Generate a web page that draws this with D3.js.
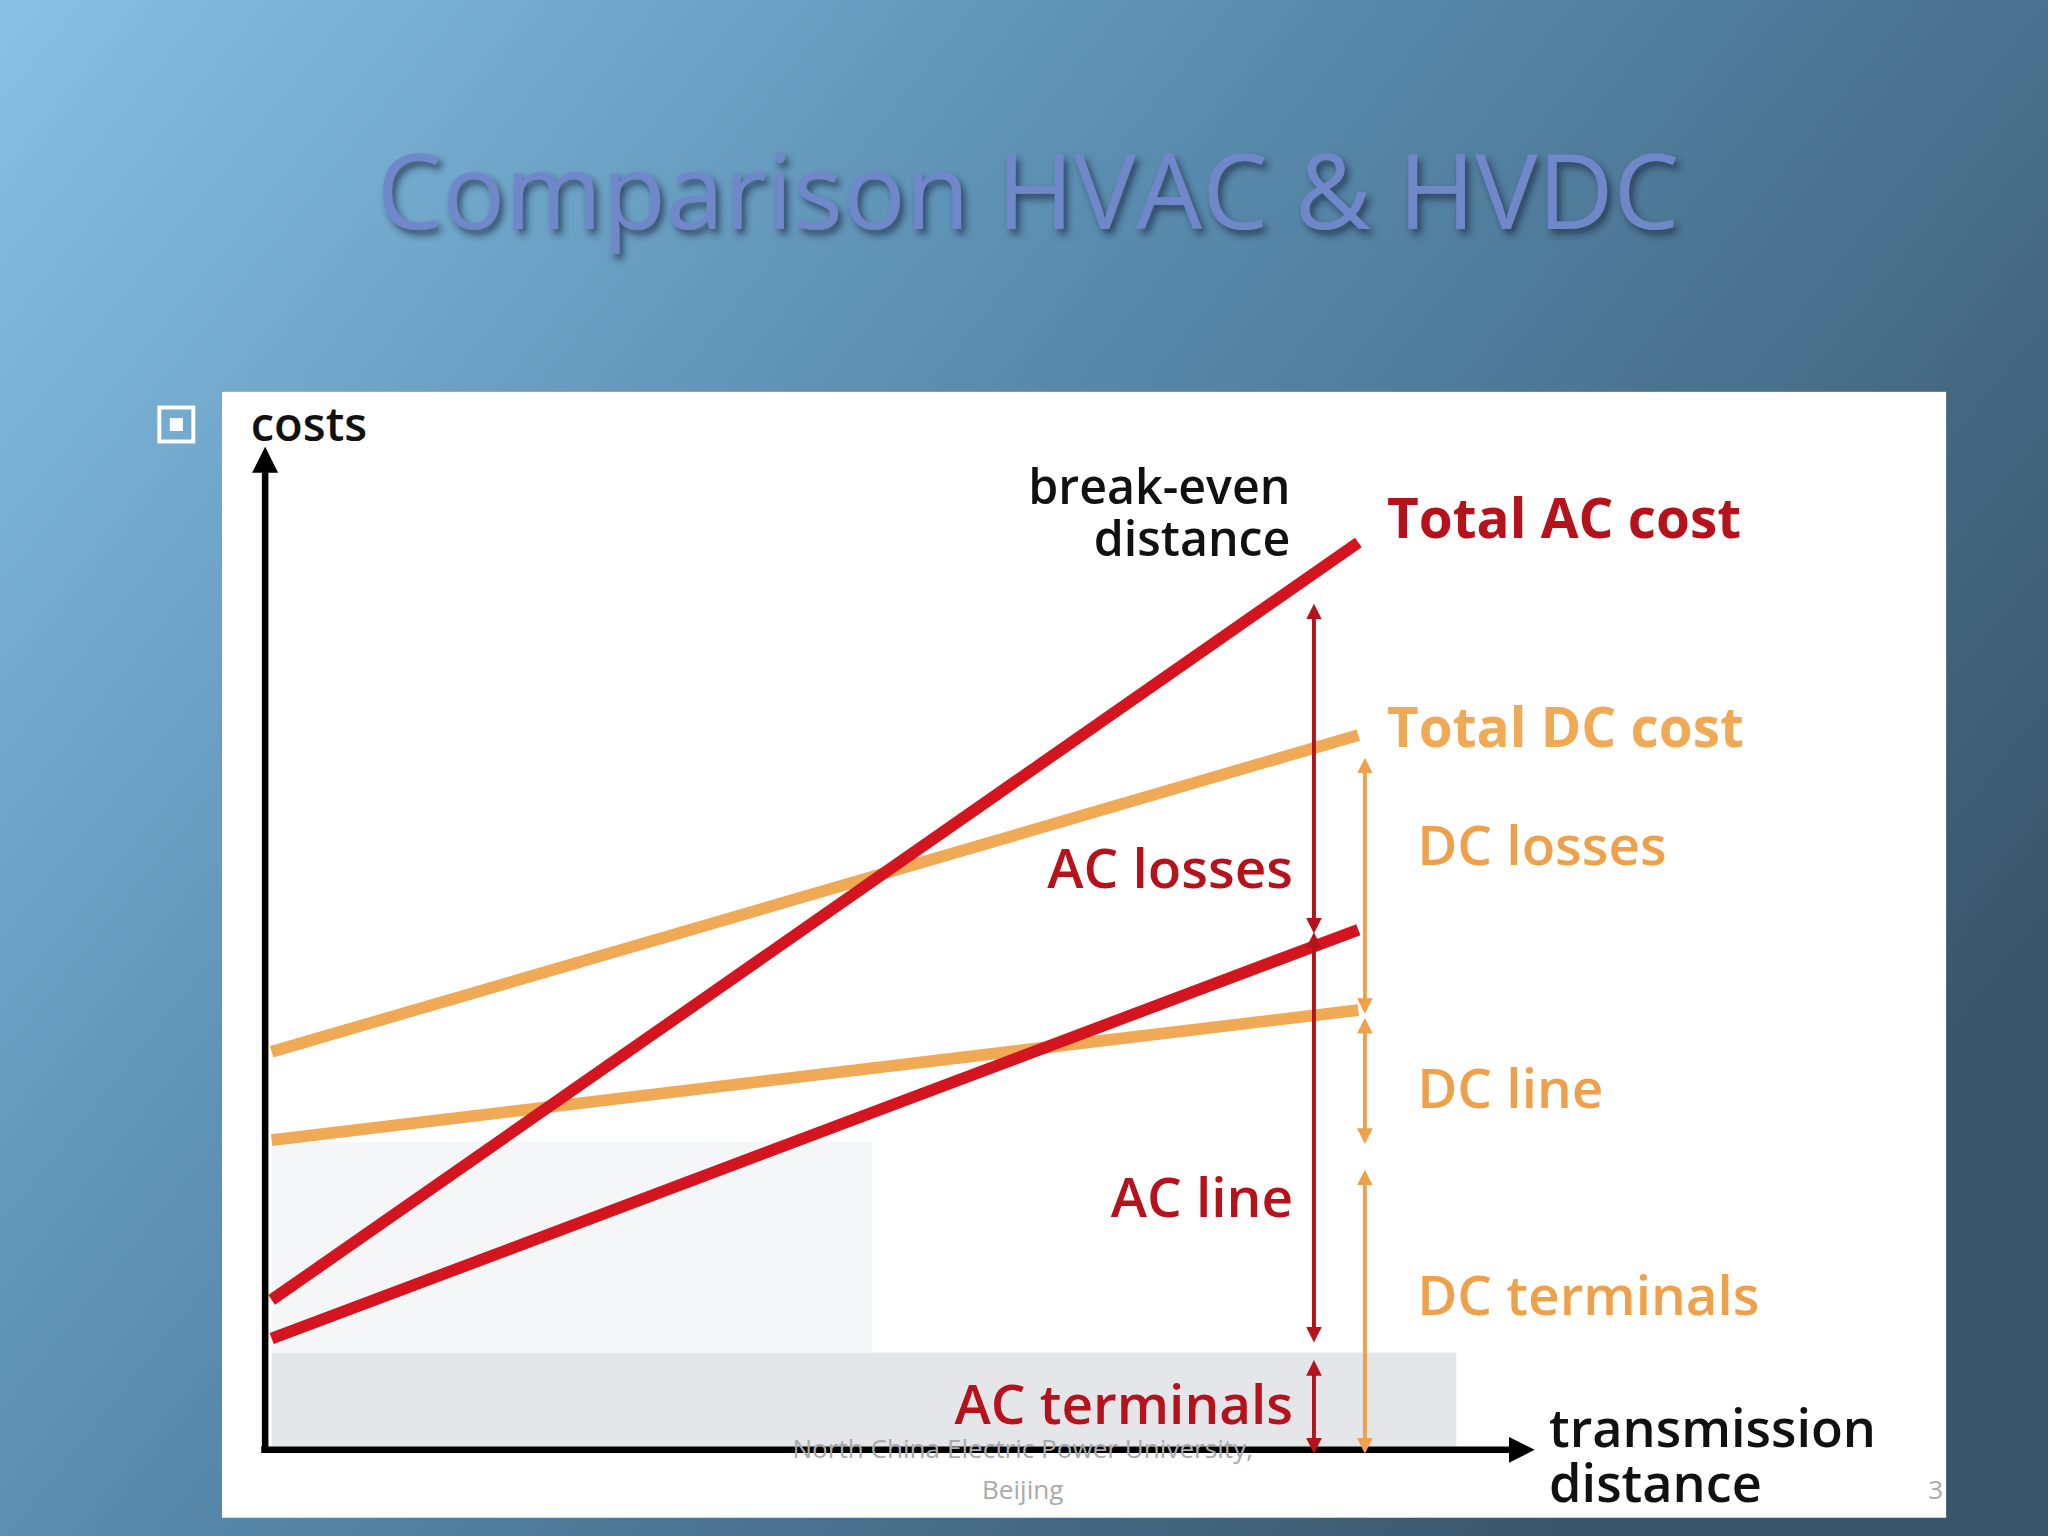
<!DOCTYPE html><html><head><meta charset="utf-8"><script src="https://cdn.jsdelivr.net/npm/d3@7"></script>
<style>body{margin:0;overflow:hidden}</style></head><body><script>
const distance=[0,100];
const totalAC=[15.1,91.4], acLine=[11.2,52.4], totalDC=[40.1,72.0], dcLine=[31.2,44.3];
const acSegs=[[0,9.3],[11.2,52.4],[52.4,85.5]], dcSegs=[[0,29],[31.2,44.3],[44.3,70.5]];
const svg=d3.select("body").append("svg").attr("width",2048).attr("height",1536).attr("viewBox","0 0 1568 1176");
const defs=svg.append("defs");
const g=defs.append("linearGradient").attr("id","bg").attr("x1","0").attr("y1","0").attr("x2","1").attr("y2","0.6");
g.append("stop").attr("offset","0").attr("stop-color","#86c0e4");g.append("stop").attr("offset","0.45").attr("stop-color","#5a8db0");g.append("stop").attr("offset","1").attr("stop-color","#3a566c");
const f=defs.append("filter").attr("id","sh");f.append("feDropShadow").attr("dx",3).attr("dy",4).attr("stdDeviation",3).attr("flood-color","#1a2a40").attr("flood-opacity",0.7);
["r","o","k"].forEach((id,i)=>defs.append("marker").attr("id",id).attr("viewBox","0 0 10 10").attr("refX",5).attr("refY",5).attr("markerWidth",4).attr("markerHeight",4).attr("orient","auto-start-reverse").append("path").attr("d","M0,0L10,5L0,10z").attr("fill",["#b5121b","#eea04a","#000"][i]));
svg.append("rect").attr("width",1568).attr("height",1176).attr("fill","url(#bg)");
svg.append("text").attr("x",787).attr("y",175).attr("text-anchor","middle").attr("font-family","Open Sans").attr("font-size",80).attr("fill","#6f87c9").attr("filter","url(#sh)").text("Comparison HVAC & HVDC");
svg.append("rect").attr("x",122).attr("y",312).attr("width",26).attr("height",26).attr("fill","none").attr("stroke","#fff").attr("stroke-width",3);
svg.append("rect").attr("x",130).attr("y",320).attr("width",10).attr("height",10).attr("fill","#fff");
svg.append("rect").attr("x",170).attr("y",300).attr("width",1320).attr("height",862).attr("fill","#fff");
const x=d3.scaleLinear().domain([0,100]).range([208,1040]);
const y=d3.scaleLinear().domain([0,100]).range([1110,350]);
svg.append("rect").attr("x",208).attr("y",y(9.8)).attr("width",1115-208).attr("height",1108-y(9.8)).attr("fill","#e4e6ea");
svg.append("rect").attr("x",208).attr("y",y(31)).attr("width",460).attr("height",y(9.8)-y(31)).attr("fill","#f5f6f7");
const ln=d3.line().x((d,i)=>x(distance[i])).y(d=>y(d));
[[dcLine,"#f0a955"],[totalDC,"#f0a955"],[acLine,"#d4141e"],[totalAC,"#d4141e"]].forEach(([s,c])=>svg.append("path").attr("d",ln(s)).attr("stroke",c).attr("stroke-width",9).attr("fill","none"));
svg.append("line").attr("x1",203).attr("x2",203).attr("y1",1110).attr("y2",352).attr("stroke","#000").attr("stroke-width",5).attr("marker-end","url(#k)");
svg.append("line").attr("x1",200).attr("x2",1165).attr("y1",1110).attr("y2",1110).attr("stroke","#000").attr("stroke-width",5).attr("marker-end","url(#k)");
acSegs.forEach(s=>svg.append("line").attr("x1",1006).attr("x2",1006).attr("y1",y(s[0])-3).attr("y2",y(s[1])+8).attr("stroke","#b5121b").attr("stroke-width",3).attr("marker-start","url(#r)").attr("marker-end","url(#r)"));
dcSegs.forEach(s=>svg.append("line").attr("x1",1045).attr("x2",1045).attr("y1",y(s[0])-3).attr("y2",y(s[1])+12).attr("stroke","#eea04a").attr("stroke-width",3).attr("marker-start","url(#o)").attr("marker-end","url(#o)"));
const T=(t,xx,yy,c,a,fs)=>svg.append("text").attr("x",xx).attr("y",yy).attr("text-anchor",a||"start").attr("font-family","Open Sans").attr("font-weight",600).attr("font-size",fs||42).attr("fill",c).text(t);
T("costs",192,338,"#111","start",36);
T("break-even",988,386,"#111","end",37);T("distance",988,426,"#111","end",37);
const Tb=(t,xx,yy,c,a)=>T(t,xx,yy,c,a).attr("font-weight","bold");
Tb("Total AC cost",1062,412,"#b5121b");Tb("Total DC cost",1062,572,"#f0a955");
T("DC losses",1085,662,"#eea04a");T("DC line",1085,848,"#eea04a");T("DC terminals",1085,1007,"#eea04a");
T("AC losses",990,680,"#b5121b","end");T("AC line",990,932,"#b5121b","end");T("AC terminals",990,1090,"#b5121b","end");
T("transmission",1186,1108,"#111","start",40);T("distance",1186,1150,"#111","start",40);
svg.append("text").attr("x",783).attr("y",1116).attr("text-anchor","middle").attr("font-family","Open Sans").attr("font-size",20).attr("fill","#aaa").text("North China Electric Power University,");
svg.append("text").attr("x",783).attr("y",1148).attr("text-anchor","middle").attr("font-family","Open Sans").attr("font-size",20).attr("fill","#aaa").text("Beijing");
svg.append("text").attr("x",1482).attr("y",1148).attr("text-anchor","middle").attr("font-family","Open Sans").attr("font-size",20).attr("fill","#aaa").text("3");
</script></body></html>
